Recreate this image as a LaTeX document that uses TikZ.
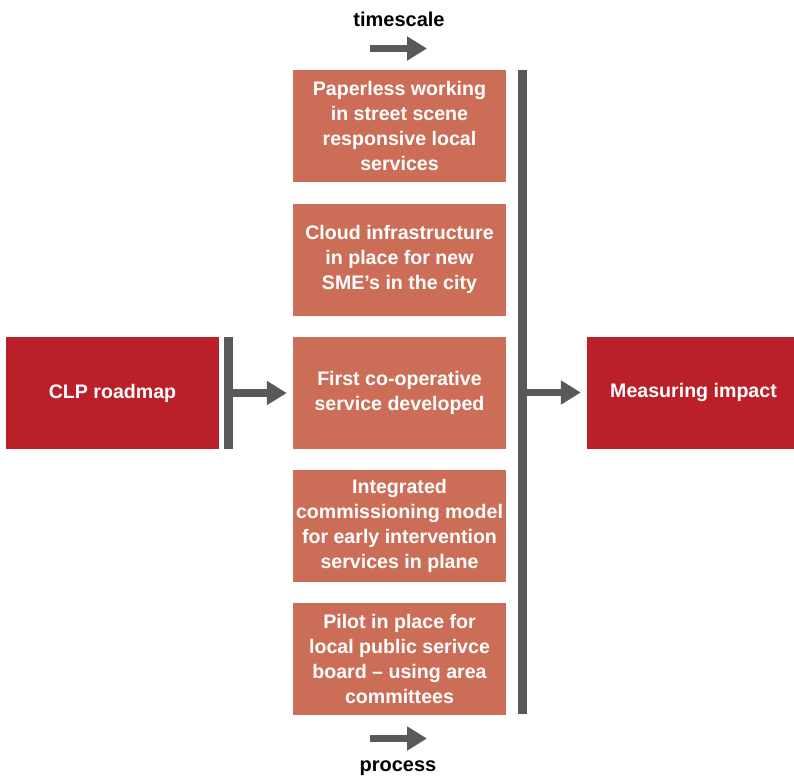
\documentclass[tikz,border=0pt]{standalone}
\usepackage{fontspec}
\setmainfont{Liberation Sans}
\usetikzlibrary{arrows.meta}
\definecolor{boxorange}{HTML}{CC6E57}
\definecolor{boxred}{HTML}{BB1F2A}
\definecolor{bargrey}{HTML}{58595B}
\tikzset{
  stepbox/.style={fill=boxorange, draw=none, minimum width=213pt, minimum height=112pt, inner sep=0pt,
    text=white, align=center, font=\bfseries\fontsize{19.6}{25}\selectfont},
  endbox/.style={fill=boxred, draw=none, minimum width=213pt, minimum height=112pt, inner sep=0pt,
    text=white, align=center, font=\bfseries\fontsize{19.6}{25}\selectfont},
  barnode/.style={fill=bargrey, draw=none, minimum width=9pt, inner sep=0pt},
  fatarrow/.style={draw=bargrey, line width=7.5pt, -{Triangle[length=20pt,width=23pt]}},
  caption/.style={text=black, font=\bfseries\fontsize{20}{22}\selectfont}
}
\begin{document}
\begin{tikzpicture}[x=1pt,y=-1pt]
\useasboundingbox (0,0) rectangle (794,777);
\node[caption] (ts) at (399,19) {timescale};
\node[caption] (pr) at (398,768) {process};
\coordinate (ta) at (370,48.5);
\coordinate (tb) at (427,48.5);
\coordinate (pa) at (370,738.5);
\coordinate (pb) at (427,738.5);
\draw[fatarrow] (ta) -- (tb);
\draw[fatarrow] (pa) -- (pb);

\node[stepbox] (b1) at (399.5,126) {Paperless working\\in street scene\\responsive local\\services};
\node[stepbox] (b2) at (399.5,259.5) {Cloud infrastructure\\in place for new\\SME’s in the city};
\node[stepbox] (b3) at (399.5,392.5) {First co-operative\\service developed};
\node[stepbox] (b4) at (399.5,525.5) {Integrated\\commissioning model\\for early intervention\\services in plane};
\node[stepbox] (b5) at (399.5,658.5) {Pilot in place for\\local public serivce\\board – using area\\committees};

\node[endbox] (clp) at (112.5,393) {CLP roadmap};
\node[endbox, minimum width=207pt] (mi) at (690.5,392.5) {\hspace*{6pt}Measuring impact};

\node[barnode, minimum height=112pt] (lbar) at (228.5,393) {};
\node[barnode, minimum height=644pt] (rbar) at (522.5,392) {};

\draw[fatarrow, shorten >=6pt] (lbar.east |- clp) -- (b3.west |- clp);
\draw[fatarrow, shorten >=6pt] (rbar.east |- mi) -- (mi.west);
\end{tikzpicture}
\end{document}
